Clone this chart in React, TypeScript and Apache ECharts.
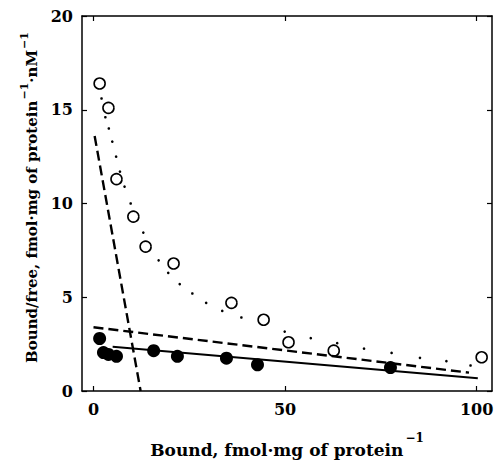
import React, { useEffect, useRef } from 'react';
import * as echarts from 'echarts';

// Axis ticks
const xTickValues = [0, 50, 100];
const yTickInterval = 5;

// Open circles (upper data set)
const openX = [1.6, 3.9, 6.0, 10.4, 13.6, 20.9, 36.0, 44.4, 50.9, 62.7, 101.3];
const openY = [16.4, 15.1, 11.3, 9.3, 7.7, 6.8, 4.7, 3.8, 2.6, 2.15, 1.8];

// Filled circles (lower data set)
const filledX = [1.6, 2.6, 3.9, 6.0, 15.7, 21.9, 34.7, 42.8, 77.5];
const filledY = [2.8, 2.05, 1.95, 1.85, 2.15, 1.85, 1.75, 1.4, 1.25];

// Dotted fitted curve (dots)
const fitDotsX = [2.1, 3.1, 4.0, 4.9, 5.9, 6.9, 8.1, 9.7, 13.0, 17.0, 19.5, 22.5, 25.8, 29.4, 33.6, 38.6, 49.9, 56.7, 63.6, 70.6, 77.8, 85.2, 92.1, 98.4];
const fitDotsY = [15.6, 14.6, 14.0, 13.3, 12.5, 11.7, 10.9, 10.0, 8.45, 6.97, 6.3, 5.7, 5.2, 4.7, 4.27, 3.92, 3.17, 2.82, 2.55, 2.26, 2.03, 1.77, 1.59, 1.36];

// Straight fitted lines
const steepDashX = [0.3, 12.3];
const steepDashY = [13.6, 0];
const shallowDashX = [0, 98];
const shallowDashY = [3.4, 0.98];
const solidX = [5.0, 100.3];
const solidY = [2.36, 0.68];

const pairs = (xs: number[], ys: number[]) => xs.map((x, i) => [x, ys[i]]);

const FONT = '"DejaVu Serif", serif';

export default function App() {
  const ref = useRef<HTMLDivElement>(null);
  useEffect(() => {
    if (!ref.current) return;
    const chart = echarts.init(ref.current, null, { renderer: 'svg' });
    const axisLine = { show: true, onZero: false, lineStyle: { color: '#000', width: 1.5 } };
    chart.setOption({
      animation: false,
      backgroundColor: '#fff',
      grid: { left: 82, right: 5, top: 16, bottom: 66, containLabel: false },
      xAxis: [
        {
          type: 'value',
          min: -3,
          max: 104,
          position: 'bottom',
          axisLine,
          axisTick: { show: true, inside: true, length: 5, customValues: xTickValues, lineStyle: { color: '#000', width: 1.2 } },
          axisLabel: { show: true, customValues: xTickValues, margin: 10, color: '#000', fontFamily: FONT, fontWeight: 'bold', fontSize: 16 },
          splitLine: { show: false },
          name: '{t|Bound, fmol·mg of protein}{s|−1}',
          nameLocation: 'middle',
          nameGap: 41,
          nameTextStyle: {
            rich: {
              t: { fontFamily: FONT, fontWeight: 'bold', fontSize: 17, color: '#000', verticalAlign: 'bottom' },
              s: { fontFamily: FONT, fontWeight: 'bold', fontSize: 12, color: '#000', verticalAlign: 'bottom', padding: [0, 0, 14, 2] },
            },
          },
        },
        {
          type: 'value',
          min: -3,
          max: 104,
          position: 'top',
          axisLine,
          axisTick: { show: true, inside: true, length: 5, customValues: xTickValues, lineStyle: { color: '#000', width: 1.2 } },
          axisLabel: { show: false },
          splitLine: { show: false },
        },
      ],
      yAxis: [
        {
          type: 'value',
          min: 0,
          max: 20,
          interval: yTickInterval,
          position: 'left',
          axisLine,
          axisTick: { show: true, inside: true, length: 5, lineStyle: { color: '#000', width: 1.2 } },
          axisLabel: { show: true, margin: 9, color: '#000', fontFamily: FONT, fontWeight: 'bold', fontSize: 16 },
          splitLine: { show: false },
          name: '{t|Bound/free, fmol·mg of protein}{s|−1}{t|·nM}{s|−1}',
          nameLocation: 'middle',
          nameGap: 30,
          nameTextStyle: {
            padding: [0, 0, 0, 12],
            rich: {
              t: { fontFamily: FONT, fontWeight: 'bold', fontSize: 15, color: '#000', verticalAlign: 'bottom' },
              s: { fontFamily: FONT, fontWeight: 'bold', fontSize: 11, color: '#000', verticalAlign: 'bottom', padding: [0, 0, 10, 1] },
            },
          },
        },
        {
          type: 'value',
          min: 0,
          max: 20,
          interval: yTickInterval,
          position: 'right',
          axisLine,
          axisTick: { show: true, inside: true, length: 5, lineStyle: { color: '#000', width: 1.2 } },
          axisLabel: { show: false },
          splitLine: { show: false },
        },
      ],
      series: [
        {
          type: 'line',
          data: pairs(steepDashX, steepDashY),
          symbol: 'none',
          lineStyle: { color: '#000', width: 2.4, type: [10, 5] },
        },
        {
          type: 'line',
          data: pairs(shallowDashX, shallowDashY),
          symbol: 'none',
          lineStyle: { color: '#000', width: 2.4, type: [10, 5] },
        },
        {
          type: 'line',
          data: pairs(solidX, solidY),
          symbol: 'none',
          lineStyle: { color: '#000', width: 2 },
        },
        {
          type: 'scatter',
          data: pairs(fitDotsX, fitDotsY),
          symbol: 'circle',
          symbolSize: 2.6,
          itemStyle: { color: '#000', opacity: 1 },
        },
        {
          type: 'scatter',
          data: pairs(openX, openY),
          symbol: 'circle',
          symbolSize: 11,
          itemStyle: { color: '#fff', borderColor: '#000', borderWidth: 1.6, opacity: 1 },
        },
        {
          type: 'scatter',
          data: pairs(filledX, filledY),
          symbol: 'circle',
          symbolSize: 13,
          itemStyle: { color: '#000', opacity: 1 },
        },
      ],
    });
    return () => chart.dispose();
  }, []);
  return <div ref={ref} style={{ position: 'fixed', left: 0, top: 0, width: 497, height: 463 }} />;
}
